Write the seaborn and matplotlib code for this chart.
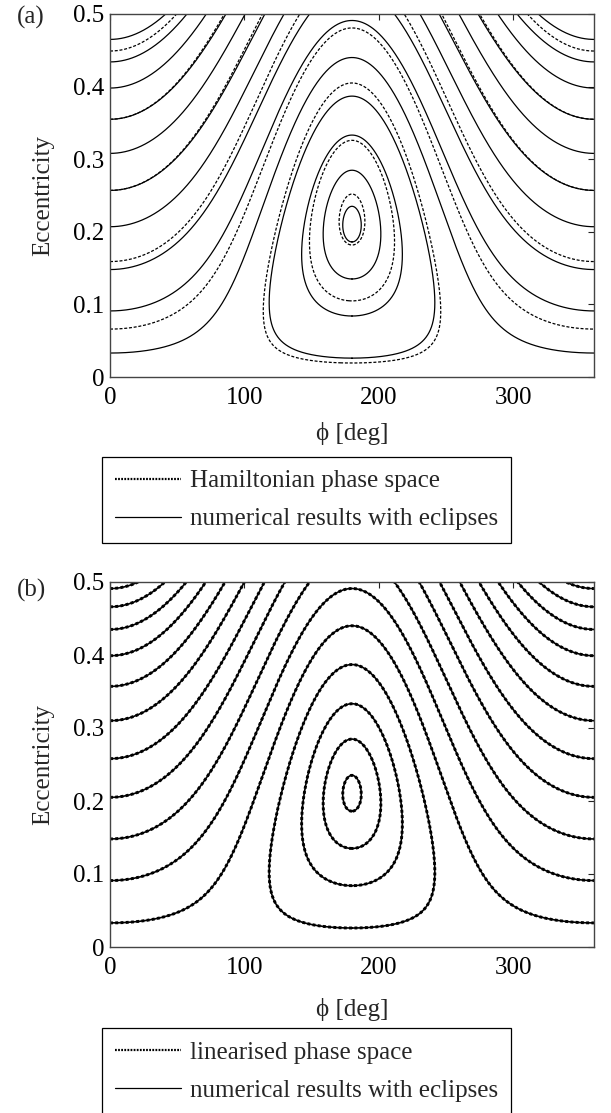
import numpy as np
import matplotlib
matplotlib.use("Agg")
import matplotlib.pyplot as plt
from matplotlib.lines import Line2D
import seaborn as sns
import contourpy

# Phase-space function H(e, phi) = e^2 + K4 * e^4 + C * e * cos(phi)
K4 = 0.34
C_ECLIPSE = 0.434   # effective coefficient including eclipses
C_FULL = 0.448      # Hamiltonian without eclipses

# Panel (a) -- numerical results with eclipses (solid)
a_num_open_e0 = [0.033, 0.091, 0.148, 0.207, 0.257, 0.308, 0.355, 0.398, 0.434, 0.465]  # e at phi = 0
a_num_loop_e180 = [0.186, 0.135, 0.084, 0.026]                                          # e at phi = 180
# Panel (a) -- Hamiltonian phase space (dashed)
a_ham_open_e0 = [0.066, 0.159, 0.257, 0.355, 0.449]
a_ham_loop_e180 = [0.252, 0.326, 0.405]
# Panel (b) -- linearised phase space and numerical results (coincident)
b_open_e0 = [0.033, 0.091, 0.148, 0.205, 0.258, 0.310, 0.357, 0.399, 0.435, 0.466, 0.491]
b_loop_e180 = [0.186, 0.135, 0.084, 0.026]

x_ticks = [0, 100, 200, 300]
y_ticks = [0, 0.1, 0.2, 0.3, 0.4, 0.5]
y_ticklabels = ["0", "0.1", "0.2", "0.3", "0.4", "0.5"]

FS = 18

sns.set_theme(style="white")
plt.rcParams["font.family"] = ["Liberation Serif", "DejaVu Serif"]
plt.rcParams["font.size"] = FS

phi_grid = np.linspace(0, 360, 1441)
e_grid = np.linspace(0, 0.56, 1121)
P, E = np.meshgrid(phi_grid, e_grid)


def ham(e, phi, c):
    return e ** 2 + K4 * e ** 4 + c * e * np.cos(np.radians(phi))


def draw_levels(ax, c, open_e0, loop_e180, **style):
    gen = contourpy.contour_generator(phi_grid, e_grid, ham(E, P, c))
    levels = [ham(v, 0.0, c) for v in open_e0] + [ham(v, 180.0, c) for v in loop_e180]
    for lev in levels:
        for seg in gen.lines(lev):
            sns.lineplot(x=seg[:, 0], y=seg[:, 1], sort=False, estimator=None,
                         ax=ax, legend=False, color="black", **style)


W, Hh = 611, 1113
fig = plt.figure(figsize=(W / 100, Hh / 100), dpi=100)
ax_a = fig.add_axes([110 / W, 1 - 377 / Hh, 484 / W, 363 / Hh])
ax_b = fig.add_axes([110 / W, 1 - 947 / Hh, 484 / W, 365 / Hh])

ham_style = dict(linewidth=0.9, linestyle=(0, (2.4, 1.4)))
num_style = dict(linewidth=0.9, linestyle="-")

draw_levels(ax_a, C_FULL, a_ham_open_e0, a_ham_loop_e180, **ham_style)
draw_levels(ax_a, C_ECLIPSE, a_num_open_e0, a_num_loop_e180, **num_style)

draw_levels(ax_b, C_ECLIPSE, b_open_e0, b_loop_e180, linewidth=1.2, linestyle="-")
draw_levels(ax_b, C_ECLIPSE, b_open_e0, b_loop_e180, linewidth=2.1, linestyle=(0, (1, 0.8)))

for ax, xl_y in ((ax_a, -0.157), (ax_b, -0.172)):
    ax.set_xlim(0, 360)
    ax.set_ylim(0, 0.5)
    ax.set_xticks(x_ticks)
    ax.set_xticklabels([str(t) for t in x_ticks])
    ax.set_yticks(y_ticks)
    ax.set_yticklabels(y_ticklabels)
    ax.tick_params(direction="in", length=4, width=0.8, top=True, right=True,
                   labelsize=FS, pad=4, colors="#222222", labelcolor="black")
    ax.tick_params(axis="x", pad=7)
    for sp in ax.spines.values():
        sp.set_visible(True)
        sp.set_color("#444444")
        sp.set_linewidth(1.0)
    ax.set_xlabel("\u03d5 [deg]", fontsize=FS)
    ax.set_ylabel("Eccentricity", fontsize=FS)
    ax.xaxis.set_label_coords(0.5, xl_y)
    ax.xaxis.label.set_verticalalignment("center")
    ax.yaxis.set_label_coords(-0.138, 0.5)
    ax.yaxis.label.set_verticalalignment("center")

fig.text(31 / W, 1 - 17 / Hh, "(a)", ha="center", va="center", fontsize=FS)
fig.text(32 / W, 1 - 590 / Hh, "(b)", ha="center", va="center", fontsize=FS)

h_dot = Line2D([], [], color="black", linewidth=1.6, linestyle=(0, (0.8, 0.6)))
h_sol = Line2D([], [], color="black", linewidth=0.9, linestyle="-")
leg_kw = dict(loc="upper left", borderaxespad=0, fontsize=FS, frameon=True,
              fancybox=False, handlelength=2.64, handletextpad=0.36,
              borderpad=0.52, labelspacing=0.62)
la = fig.legend([h_dot, h_sol], ["Hamiltonian phase space", "numerical results with eclipses"],
                bbox_to_anchor=(102 / W, 1 - 457 / Hh), **leg_kw)
lb = fig.legend([h_dot, h_sol], ["linearised phase space", "numerical results with eclipses"],
                bbox_to_anchor=(102 / W, 1 - 1028 / Hh), **leg_kw)
for lg in (la, lb):
    fr = lg.get_frame()
    fr.set_edgecolor("black")
    fr.set_linewidth(0.9)
    fr.set_alpha(1)

fig.savefig("out.png", dpi=100, facecolor="white")
